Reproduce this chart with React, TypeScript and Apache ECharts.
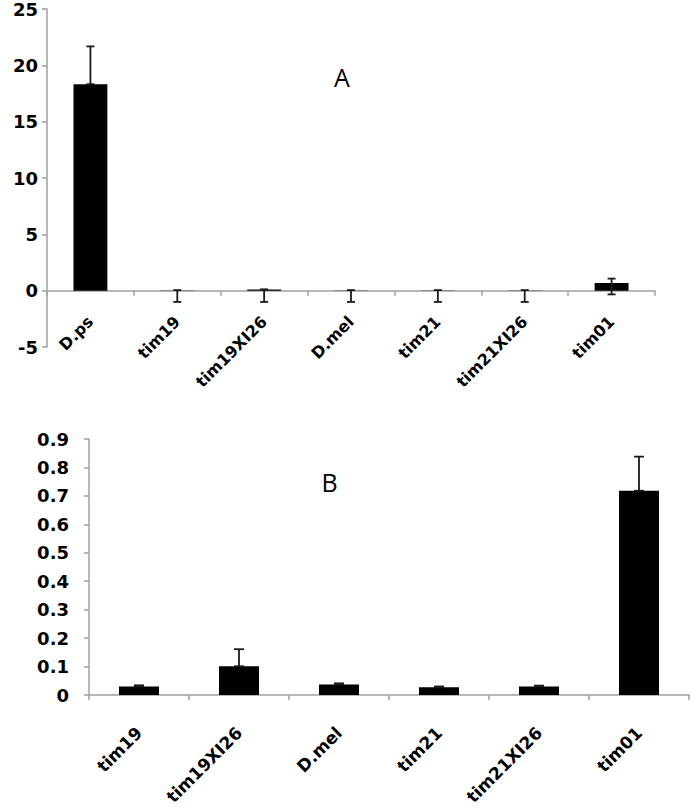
import React, { useEffect, useRef } from "react";
import * as echarts from "echarts";

const catsA = ["D.ps", "tim19", "tim19XI26", "D.mel", "tim21", "tim21XI26", "tim01"];
const valuesA = [18.33, 0.02, 0.1, 0.02, 0.02, 0.02, 0.68];
const errLowA = [18.33, -1.0, -1.0, -1.0, -1.0, -1.0, -0.33];
const errHighA = [21.68, 0.05, 0.12, 0.05, 0.05, 0.05, 1.07];
const yTicksA = [-5, 0, 5, 10, 15, 20, 25];

const catsB = ["tim19", "tim19XI26", "D.mel", "tim21", "tim21XI26", "tim01"];
const valuesB = [0.03, 0.101, 0.037, 0.027, 0.03, 0.718];
const errB = [0.004, 0.06, 0.004, 0.003, 0.003, 0.12];
const yTicksB = [0, 0.1, 0.2, 0.3, 0.4, 0.5, 0.6, 0.7, 0.8, 0.9];

const AXIS_GREY = "#a0a0a0";
const LABEL_FONT = "DejaVu Sans";

function errorRender(capHalf: number) {
  return (params: any, api: any) => {
    const i = api.value(0);
    const lo = api.value(1);
    const hi = api.value(2);
    const top = api.coord([i, hi]);
    const bot = api.coord([i, lo]);
    const style = { stroke: "#1a1a1a", lineWidth: 1.8 };
    return {
      type: "group",
      children: [
        { type: "line", shape: { x1: top[0], y1: top[1], x2: bot[0], y2: bot[1] }, style },
        { type: "line", shape: { x1: top[0] - capHalf, y1: top[1], x2: top[0] + capHalf, y2: top[1] }, style },
        { type: "line", shape: { x1: bot[0] - capHalf, y1: bot[1], x2: bot[0] + capHalf, y2: bot[1] }, style },
      ],
    };
  };
}

export default function App() {
  const ref = useRef<HTMLDivElement>(null);
  useEffect(() => {
    document.body.style.margin = "0";
    if (!ref.current) return;
    const chart = echarts.init(ref.current, null, { renderer: "svg" });
    const axisTick = { show: true, length: 5, lineStyle: { color: AXIS_GREY, width: 1.5 } };
    const xLabel = (margin: number, size: number) => ({
      interval: 0,
      rotate: 45,
      margin,
      color: "#000",
      fontFamily: LABEL_FONT,
      fontWeight: "bold",
      fontSize: size,
    });
    const yLabel = (margin: number) => ({
      margin,
      color: "#000",
      fontFamily: LABEL_FONT,
      fontWeight: "bold",
      fontSize: 18,
    });
    chart.setOption({
      animation: false,
      backgroundColor: "#ffffff",
      grid: [
        { left: 89, right: 3, top: 439, bottom: 113 },
        { left: 47, right: 37, top: 9, bottom: 461 },
        { left: 47, right: 37, top: 9, bottom: 518 },
      ],
      xAxis: [
        {
          type: "category",
          gridIndex: 0,
          data: catsB,
          axisLine: { show: true, onZero: false, lineStyle: { color: AXIS_GREY, width: 1.5 } },
          axisTick: { ...axisTick, alignWithLabel: false },
          axisLabel: xLabel(35, 17),
          splitLine: { show: false },
        },
        {
          type: "category",
          gridIndex: 1,
          data: catsA,
          axisLine: { show: true, onZero: true, lineStyle: { color: AXIS_GREY, width: 1.5 } },
          axisTick: { ...axisTick, alignWithLabel: false },
          axisLabel: { show: false },
          splitLine: { show: false },
        },
        {
          type: "category",
          gridIndex: 2,
          data: catsA,
          axisLine: { show: false, onZero: false },
          axisTick: { show: false },
          axisLabel: xLabel(29, 16),
          splitLine: { show: false },
        },
      ],
      yAxis: [
        {
          type: "value",
          gridIndex: 0,
          min: yTicksB[0],
          max: yTicksB[yTicksB.length - 1],
          interval: 0.1,
          axisLine: { show: true, lineStyle: { color: AXIS_GREY, width: 1.5 } },
          axisTick,
          splitLine: { show: false },
          axisLabel: {
            ...yLabel(20),
            formatter: (v: number) => (Math.abs(v) < 1e-9 ? "0" : v.toFixed(1)),
          },
        },
        {
          type: "value",
          gridIndex: 1,
          min: yTicksA[0],
          max: yTicksA[yTicksA.length - 1],
          interval: yTicksA[1] - yTicksA[0],
          axisLine: { show: true, lineStyle: { color: AXIS_GREY, width: 1.5 } },
          axisTick,
          splitLine: { show: false },
          axisLabel: yLabel(9),
        },
        {
          type: "value",
          gridIndex: 2,
          min: 0,
          max: 1,
          show: false,
        },
      ],
      graphic: [
        {
          type: "text",
          x: 342,
          y: 77,
          style: { text: "A", font: '25px "Open Sans"', fill: "#000", textAlign: "center", textVerticalAlign: "middle" },
        },
        {
          type: "text",
          x: 329.5,
          y: 482,
          style: { text: "B", font: '25px "Open Sans"', fill: "#000", textAlign: "center", textVerticalAlign: "middle" },
        },
      ],
      series: [
        {
          type: "bar",
          xAxisIndex: 1,
          yAxisIndex: 1,
          data: valuesA,
          barWidth: "39%",
          itemStyle: { color: "#000" },
        },
        {
          type: "custom",
          xAxisIndex: 1,
          yAxisIndex: 1,
          z: 5,
          renderItem: errorRender(4),
          data: catsA.map((_, i) => [i, errLowA[i], errHighA[i]]),
        },
        {
          type: "bar",
          xAxisIndex: 0,
          yAxisIndex: 0,
          data: valuesB,
          barWidth: "40%",
          itemStyle: { color: "#000" },
        },
        {
          type: "custom",
          xAxisIndex: 0,
          yAxisIndex: 0,
          z: 5,
          renderItem: errorRender(5),
          data: catsB.map((_, i) => [i, valuesB[i], valuesB[i] + errB[i]]),
        },
      ],
    });
    return () => chart.dispose();
  }, []);
  return <div ref={ref} style={{ width: 692, height: 808 }} />;
}
